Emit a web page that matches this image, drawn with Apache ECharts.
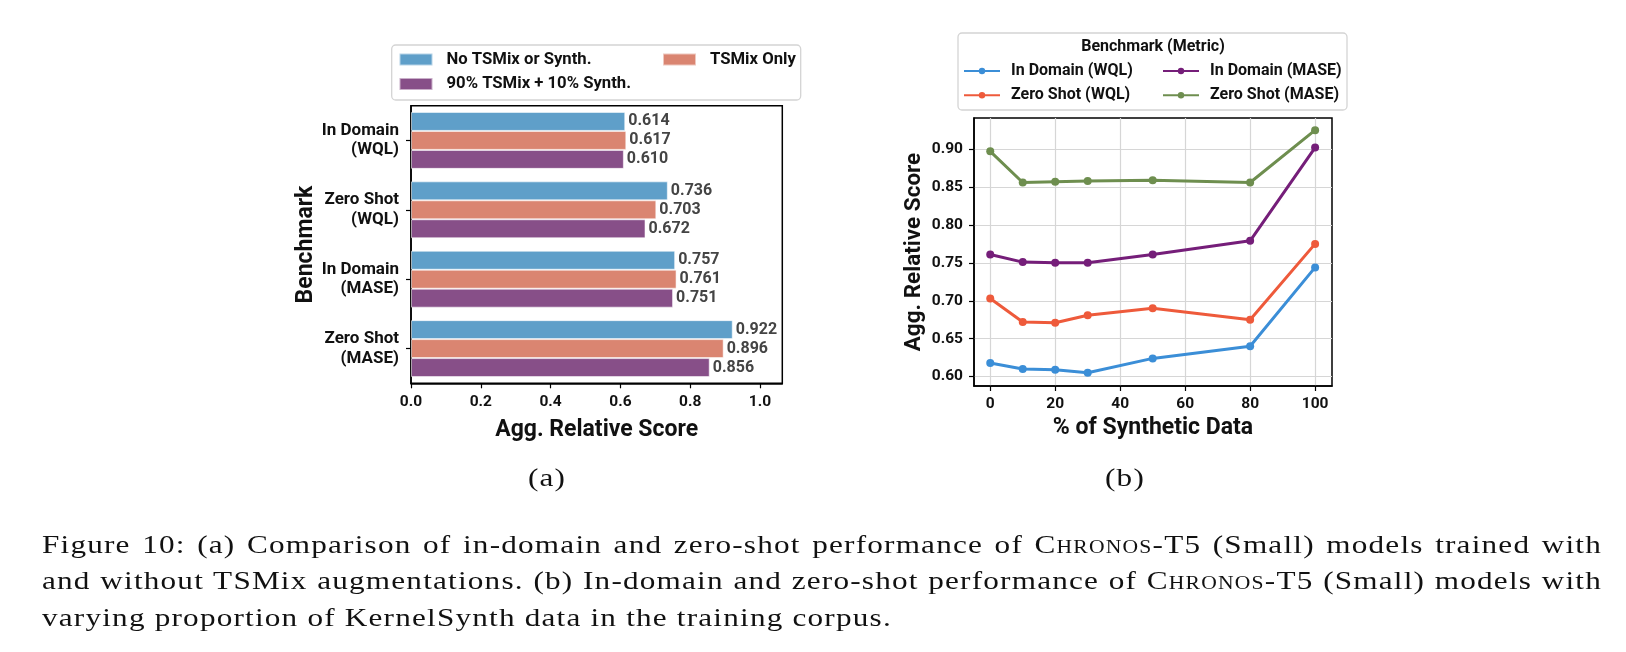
<!DOCTYPE html>
<html>
<head>
<meta charset="utf-8">
<script src="https://cdn.jsdelivr.net/npm/echarts@6/dist/echarts.min.js"></script>
<style>
  html, body { margin: 0; padding: 0; background: #fff; }
  #chart { position: absolute; left: 0; top: 0; width: 1626px; height: 652px; }
  .serif { position: absolute; font-family: "Liberation Serif", serif; font-size: 26px; line-height: 30px; color: #111; white-space: nowrap; letter-spacing: 1px; }
  .sub { transform: translateX(-50%) scaleX(1.2); }
  .cap { left: 42px; width: 1300px; transform: scaleX(1.2); transform-origin: 0 0; }
  .just { text-align: justify; text-align-last: justify; white-space: normal; }
  .sc { font-variant: small-caps; }
</style>
</head>
<body>
<div id="chart"></div>
<div class="serif sub" style="left:547px; top:463px;">(a)</div>
<div class="serif sub" style="left:1125px; top:463px;">(b)</div>
<div class="serif cap just" style="top:530px;">Figure 10: (a) Comparison of in-domain and zero-shot performance of <span class="sc">Chronos</span>-T5 (Small) models trained with</div>
<div class="serif cap just" style="top:566px;">and without TSMix augmentations. (b) In-domain and zero-shot performance of <span class="sc">Chronos</span>-T5 (Small) models with</div>
<div class="serif cap" style="top:603px;">varying proportion of KernelSynth data in the training corpus.</div>
<script>
// (a) bar chart
const benchmarks = ["In Domain\n(WQL)", "Zero Shot\n(WQL)", "In Domain\n(MASE)", "Zero Shot\n(MASE)"];
const noTsmix = [0.614, 0.736, 0.757, 0.922];
const tsmixOnly = [0.617, 0.703, 0.761, 0.896];
const tsmixSynth = [0.610, 0.672, 0.751, 0.856];
const scoreTicksA = [0, 0.2, 0.4, 0.6, 0.8, 1.0];

// (b) line chart
const synthPct = [0, 10, 20, 30, 50, 80, 100];
const inDomainWql = [0.618, 0.610, 0.609, 0.605, 0.624, 0.640, 0.744];
const zeroShotWql = [0.703, 0.672, 0.671, 0.681, 0.690, 0.675, 0.775];
const inDomainMase = [0.761, 0.751, 0.750, 0.750, 0.761, 0.779, 0.902];
const zeroShotMase = [0.897, 0.856, 0.857, 0.858, 0.859, 0.856, 0.925];
const pctTicks = [0, 20, 40, 60, 80, 100];
const scoreTicksB = [0.60, 0.65, 0.70, 0.75, 0.80, 0.85, 0.90];

const FONT = "Roboto";
const tickLabel = { fontFamily: FONT, fontWeight: "bold", fontSize: 15.5, color: "#111" };
const nameStyle = { fontFamily: FONT, fontWeight: "bold", fontSize: 23, color: "#111" };
const barLegendText = { fontFamily: FONT, fontWeight: "bold", fontSize: 16.7, lineHeight: 17, color: "#111", padding: [0, 0, 0, 9] };
const lineLegendText = { fontFamily: FONT, fontWeight: "bold", fontSize: 16, lineHeight: 16, color: "#111", padding: [0, 0, 0, 6] };

const chart = echarts.init(document.getElementById("chart"));

function pairs(values) {
  return synthPct.map((x, i) => [x, values[i]]);
}

function barSeries(name, values, color) {
  return {
    name: name,
    type: "bar",
    xAxisIndex: 0,
    yAxisIndex: 0,
    barGap: "0%",
    barCategoryGap: "18%",
    itemStyle: { color: color, borderColor: "rgba(255,255,255,0.55)", borderWidth: 1 },
    label: {
      show: true,
      position: "right",
      distance: 3,
      fontFamily: FONT,
      fontWeight: "bold",
      fontSize: 16,
      color: "#444",
      formatter: (p) => p.value.toFixed(3),
    },
    data: values,
  };
}

function lineSeries(name, values, color) {
  return {
    name: name,
    type: "line",
    xAxisIndex: 1,
    yAxisIndex: 1,
    symbol: "circle",
    symbolSize: 8,
    lineStyle: { width: 3, color: color },
    itemStyle: { color: color },
    data: pairs(values),
  };
}

chart.setOption({
  animation: false,
  backgroundColor: "#fff",
  grid: [
    { left: 411, top: 105.7, width: 371.3, height: 277.6, show: true, borderColor: "#000", borderWidth: 1.5, backgroundColor: "transparent" },
    { left: 974, top: 118, width: 358, height: 268, show: true, borderColor: "#000", borderWidth: 1.5, backgroundColor: "transparent" },
  ],
  legend: [
    { data: ["No TSMix or Synth."], left: 398.5, top: 51, padding: 0, icon: "rect", itemWidth: 33, itemHeight: 12, textStyle: barLegendText },
    { data: ["TSMix Only"], left: 662, top: 51, padding: 0, icon: "rect", itemWidth: 33, itemHeight: 12, textStyle: barLegendText },
    { data: ["90% TSMix + 10% Synth."], left: 398.5, top: 75.5, padding: 0, icon: "rect", itemWidth: 33, itemHeight: 12, textStyle: barLegendText },
    {
      data: ["In Domain (WQL)", "Zero Shot (WQL)"], orient: "vertical", left: 963, top: 63, padding: 0,
      itemGap: 8.3, itemWidth: 36, itemHeight: 8, textStyle: lineLegendText,
    },
    {
      data: ["In Domain (MASE)", "Zero Shot (MASE)"], orient: "vertical", left: 1162, top: 63, padding: 0,
      itemGap: 8.3, itemWidth: 36, itemHeight: 8, textStyle: lineLegendText,
    },
  ],
  graphic: [
    { type: "rect", z: -1, shape: { x: 391.7, y: 45, width: 409, height: 55, r: 4 }, style: { fill: "#fff", stroke: "#d4d4d4", lineWidth: 1.3 } },
    { type: "rect", z: -1, shape: { x: 958, y: 33, width: 389, height: 77, r: 4 }, style: { fill: "#fff", stroke: "#d4d4d4", lineWidth: 1.3 } },
    {
      type: "text", x: 1153, y: 47,
      style: { text: "Benchmark (Metric)", fontFamily: FONT, fontWeight: "bold", fontSize: 16, fill: "#111", align: "center", verticalAlign: "middle" },
    },
  ],
  xAxis: [
    {
      gridIndex: 0, type: "value", min: 0, max: 1.064,
      name: "Agg. Relative Score", nameLocation: "middle", nameGap: 35, nameTextStyle: nameStyle,
      axisLine: { show: true, onZero: false, lineStyle: { color: "#000", width: 1.5 } },
      axisTick: { show: true, length: 5, customValues: scoreTicksA, lineStyle: { color: "#000", width: 1.2 } },
      axisLabel: Object.assign({ margin: 11, customValues: scoreTicksA, formatter: (v) => v.toFixed(1) }, tickLabel),
      splitLine: { show: false },
    },
    {
      gridIndex: 1, type: "value", min: -5, max: 105.2,
      name: "% of Synthetic Data", nameLocation: "middle", nameGap: 31, nameTextStyle: nameStyle,
      axisLine: { show: true, onZero: false, lineStyle: { color: "#000", width: 1.5 } },
      axisTick: { show: true, length: 5, customValues: pctTicks, lineStyle: { color: "#000", width: 1.2 } },
      axisLabel: Object.assign({ margin: 10, customValues: pctTicks, formatter: (v) => String(v) }, tickLabel),
      splitLine: { show: true, lineStyle: { color: "#d6d6d6", width: 1.2 } },
    },
  ],
  yAxis: [
    {
      gridIndex: 0, type: "category", inverse: true, data: benchmarks,
      name: "Benchmark", nameLocation: "middle", nameGap: 91, nameRotate: 90, nameTextStyle: nameStyle,
      axisLine: { show: true, onZero: false, lineStyle: { color: "#000", width: 1.5 } },
      axisTick: { show: true, alignWithLabel: true, length: 5, lineStyle: { color: "#000", width: 1.2 } },
      axisLabel: Object.assign({}, tickLabel, { fontSize: 17, lineHeight: 19.5, margin: 12, align: "right" }),
    },
    {
      gridIndex: 1, type: "value", min: 0.5876, max: 0.941,
      name: "Agg. Relative Score", nameLocation: "middle", nameGap: 48, nameRotate: 90, nameTextStyle: Object.assign({}, nameStyle, { fontSize: 22.5 }),
      axisLine: { show: true, onZero: false, lineStyle: { color: "#000", width: 1.5 } },
      axisTick: { show: true, length: 5, customValues: scoreTicksB, lineStyle: { color: "#000", width: 1.2 } },
      axisLabel: Object.assign({ margin: 11, customValues: scoreTicksB, formatter: (v) => v.toFixed(2) }, tickLabel),
      splitLine: { show: true, lineStyle: { color: "#d6d6d6", width: 1.2 } },
    },
  ],
  series: [
    barSeries("No TSMix or Synth.", noTsmix, "#5f9fc9"),
    barSeries("TSMix Only", tsmixOnly, "#da8571"),
    barSeries("90% TSMix + 10% Synth.", tsmixSynth, "#874f88"),
    lineSeries("In Domain (WQL)", inDomainWql, "#3b8ed7"),
    lineSeries("Zero Shot (WQL)", zeroShotWql, "#ee5a3b"),
    lineSeries("In Domain (MASE)", inDomainMase, "#751e79"),
    lineSeries("Zero Shot (MASE)", zeroShotMase, "#6e8e4f"),
  ],
});
</script>
</body>
</html>
